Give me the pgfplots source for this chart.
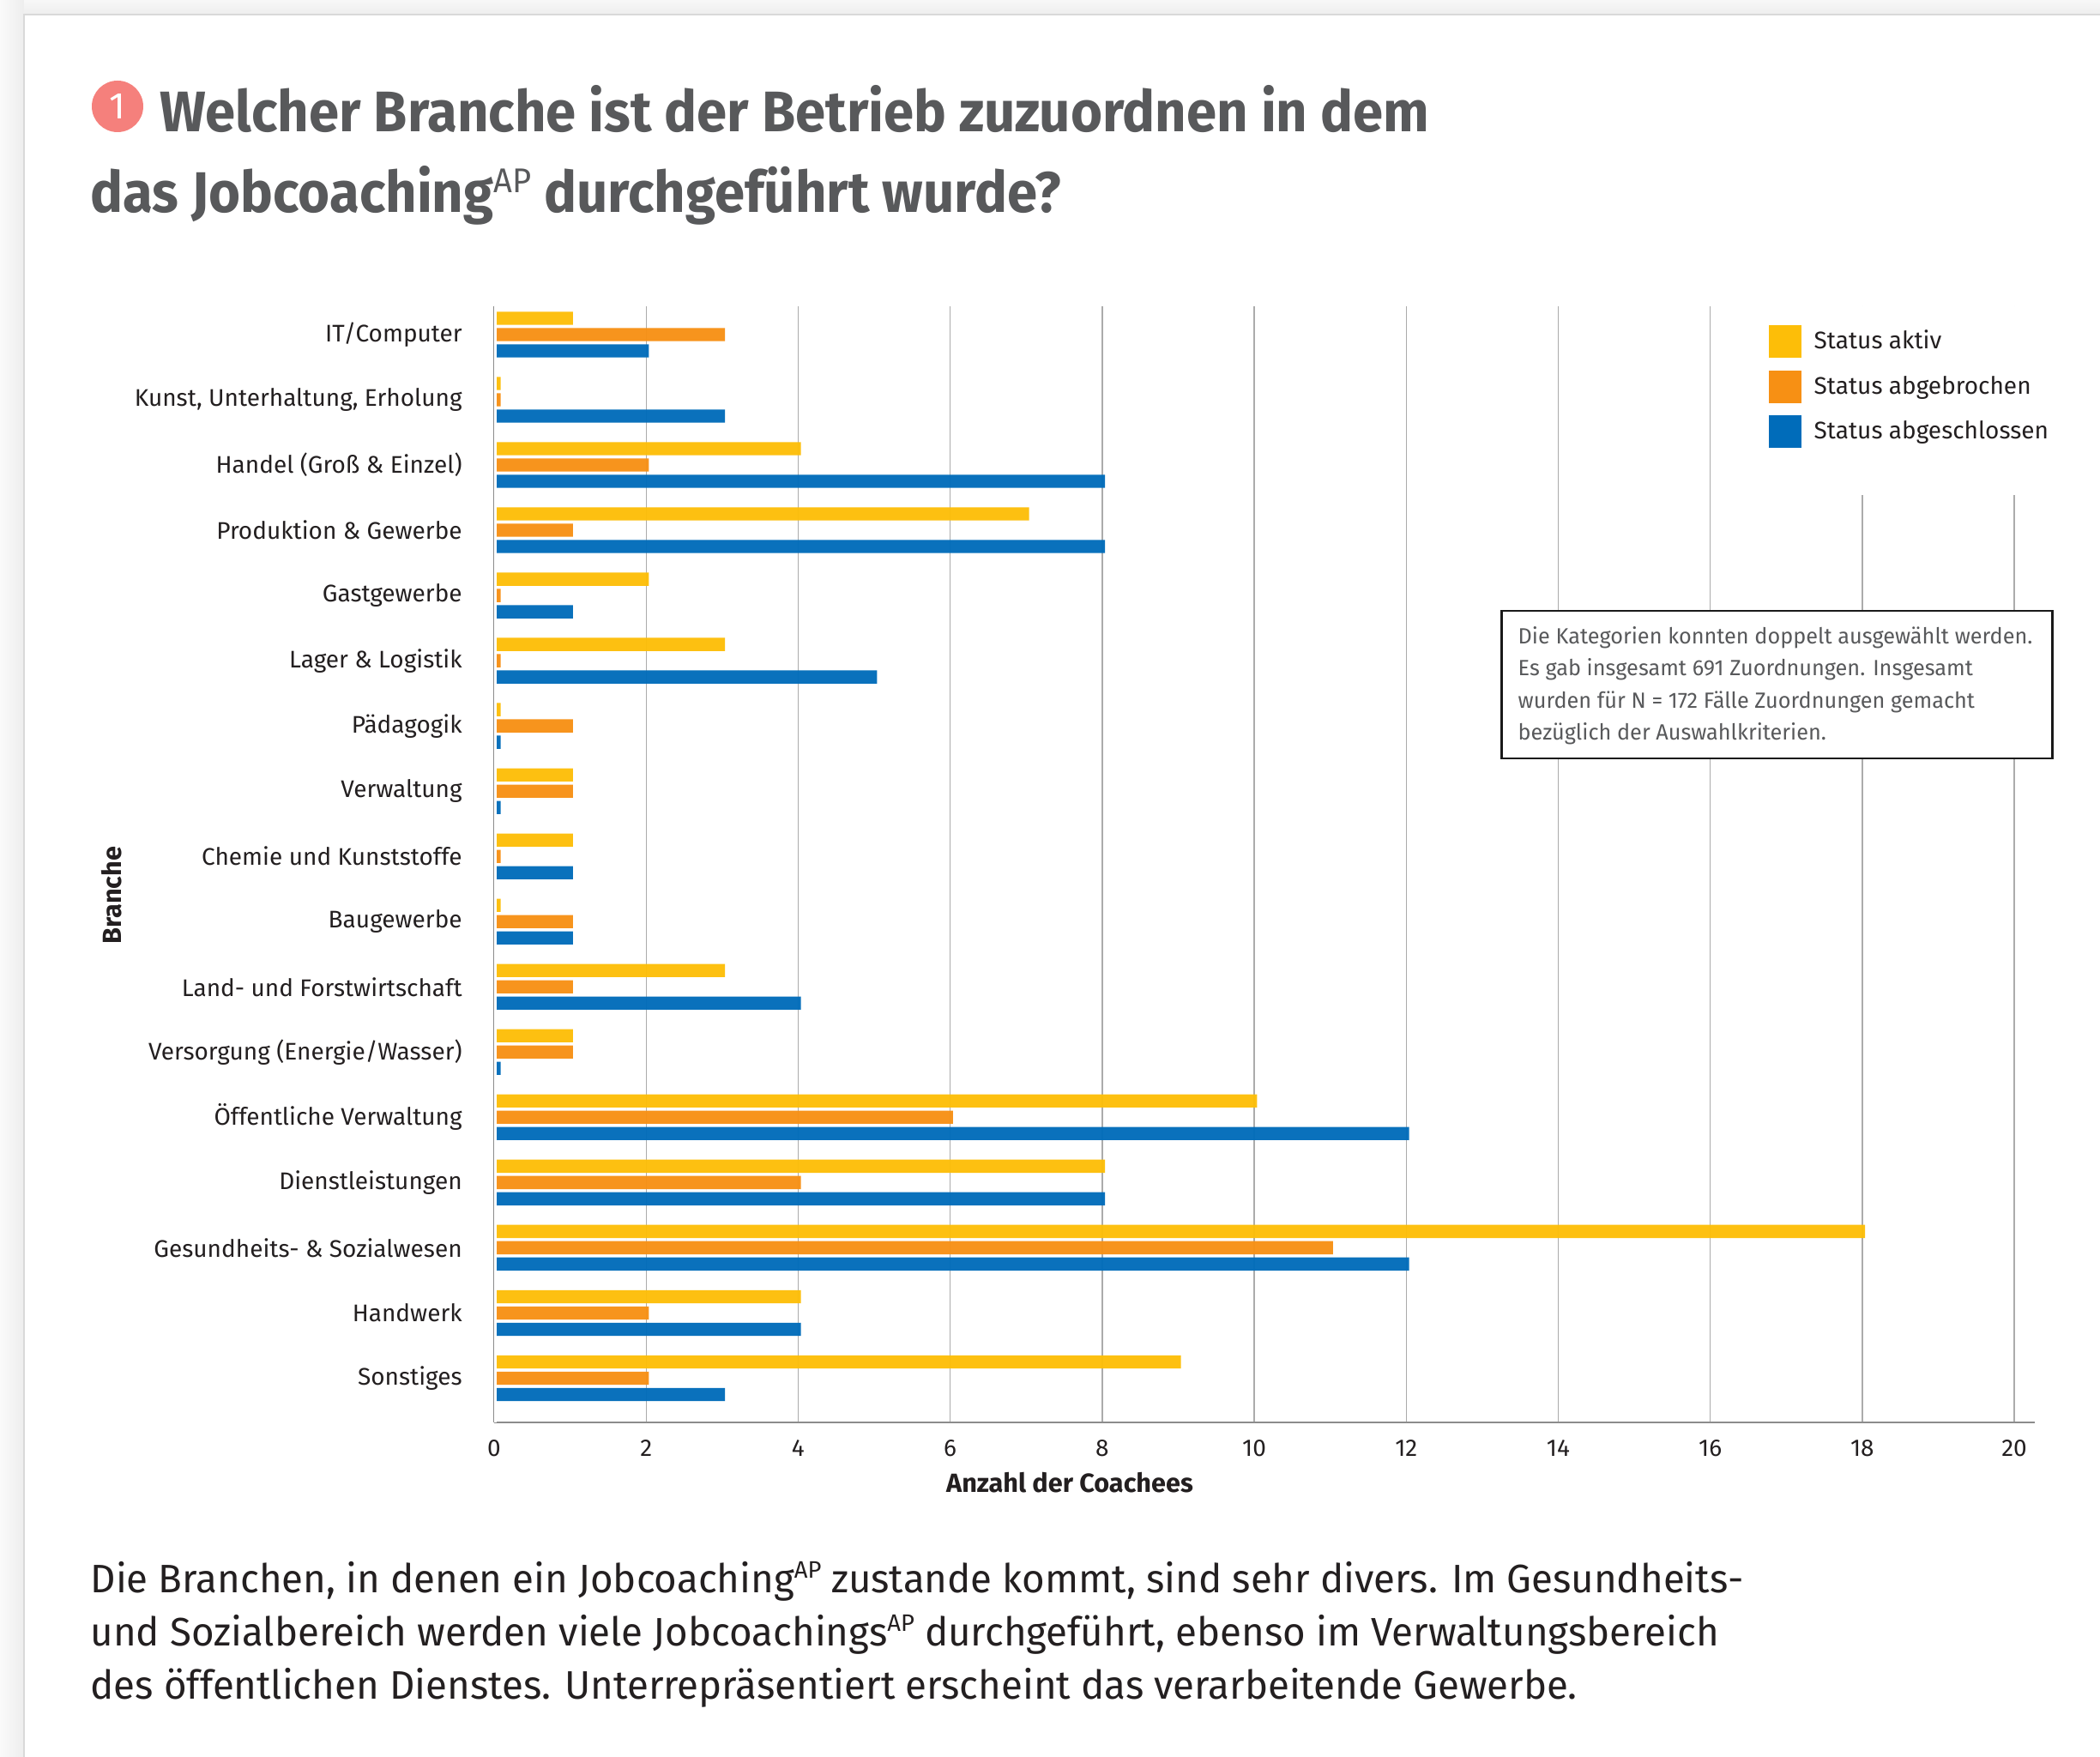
\documentclass[border=0pt]{standalone}
\usepackage{fontspec}
\setmainfont{Fira Sans}
\newfontfamily\titlefont{Fira Sans}[FakeStretch=0.952]
\newfontfamily\bodyfont{Fira Sans}[FakeStretch=0.985]
\usepackage{pgfplots}
\usepackage{pgfplotstable}
\pgfplotsset{compat=1.18}
\definecolor{cY}{HTML}{FDBE08}
\definecolor{cO}{HTML}{F79014}
\definecolor{cB}{HTML}{006CBA}
\definecolor{cT}{HTML}{58595B}
\definecolor{cK}{HTML}{231F20}
\newcommand\supAP[1]{\raisebox{#1}{\fontseries{l}\selectfont\scalebox{0.6}{AP}}}
\pgfplotsset{layers/barsover/.define layer set={axis background,axis grid,axis ticks,pre main,main,axis lines,axis tick labels,axis descriptions,axis foreground}{}}
\pgfplotstableread{
a o b
1 3 2
0 0 3
4 2 8
7 1 8
2 0 1
3 0 5
0 1 0
1 1 0
1 0 1
0 1 1
3 1 4
1 1 0
10 6 12
8 4 8
18 11 12
4 2 4
9 2 3
}\branchen
\begin{document}
\begin{tikzpicture}
\begin{scope}[x=0.3pt,y=-0.3pt]
\fill[black!6] (0,0) rectangle (2448,2048);
\shade[left color=black!2, right color=black!7] (0,0) rectangle (28,2048);
\shade[top color=black!3, bottom color=black!7] (28,0) rectangle (2448,17);
\fill[white, draw=black!15, line width=0.4pt] (28,17) rectangle (2460,2060);
\end{scope}
\begin{axis}[
  set layers=barsover,
  at={(172.8pt,-497.4pt)}, anchor=south west,
  scale only axis, width=538.8pt, height=390.3pt,
  xmin=0, xmax=20.27, ymin=-0.434, ymax=16.678, y dir=reverse,
  clip=false,
  xbar, 
  axis lines*=left,
  axis line style={-, color=black!45, line width=0.8pt},
  xtick={0,2,...,20}, ytick={0,...,16},
  yticklabels={IT/Computer,{Kunst, Unterhaltung, Erholung},Handel (Groß \& Einzel),Produktion \& Gewerbe,Gastgewerbe,Lager \& Logistik,Pädagogik,Verwaltung,Chemie und Kunststoffe,Baugewerbe,Land- und Forstwirtschaft,Versorgung (Energie/Wasser),Öffentliche Verwaltung,Dienstleistungen,Gesundheits- \& Sozialwesen,Handwerk,Sonstiges},
  major tick length=0pt,
  /pgf/number format/assume math mode=true,
  tick label style={font=\fontsize{8.4}{10}\selectfont, text=cK},
  yticklabel style={inner sep=0pt, xshift=-11pt},
  xticklabel style={inner sep=0pt, yshift=-5.9pt},
  xmajorgrids,
  grid style={color=black!33, line width=0.4pt},
  xlabel={Anzahl der Coachees},
  xlabel style={font=\fontsize{9.2}{10}\bfseries, text=cK, at={(axis description cs:0.3736,0)}, anchor=center, yshift=-21pt},
  ylabel={Branche},
  ylabel style={font=\fontsize{9.2}{10}\bfseries, text=cK, at={(axis description cs:0,0.472)}, anchor=center, yshift=133.8pt},
  legend style={at={(axis description cs:0.8274,0.9838)}, anchor=north west, draw=none, fill=none, inner sep=0pt, outer sep=0pt, font=\fontsize{8.4}{10}\selectfont, text=cK, row sep=3.93pt, /tikz/every even column/.append style={column sep=0pt}},
  legend cell align=left,
  legend image code/.code={\fill[#1,fill opacity=1] (0pt,-5.7pt) rectangle (11.4pt,5.7pt);},
]
\addplot[xbar, draw=none, fill=cY, fill opacity=0.96, bar width=4.6pt, bar shift=5.7pt] table[x expr={ifthenelse(\thisrow{a}==0,0.087,\thisrow{a}+0.037)}, y expr=\coordindex] {\branchen};
\addplot[xbar, draw=none, fill=cO, fill opacity=0.96, bar width=4.6pt, bar shift=0pt] table[x expr={ifthenelse(\thisrow{o}==0,0.087,\thisrow{o}+0.037)}, y expr=\coordindex] {\branchen};
\addplot[xbar, draw=none, fill=cB, fill opacity=0.96, bar width=4.6pt, bar shift=-5.7pt] table[x expr={ifthenelse(\thisrow{b}==0,0.087,\thisrow{b}+0.037)}, y expr=\coordindex] {\branchen};
\legend{\hspace{2.4pt}Status aktiv,\hspace{2.4pt}Status abgebrochen,\hspace{2.4pt}Status abgeschlossen}
\fill[white] (axis cs:0,-0.434) rectangle (axis cs:0.037,16.678);
\fill[white] (axis cs:16.2,-0.434) rectangle (axis cs:20.27,2.46);
\end{axis}
\begin{scope}[x=0.3pt,y=-0.3pt]
\node[draw=black!90, line width=0.75pt, fill=white, minimum width=192.6pt, minimum height=51.6pt, inner sep=0pt, anchor=north west] at (1749,711) {};
\foreach \yy/\tt in {751/Die Kategorien konnten doppelt ausgewählt werden.,788/Es gab insgesamt 691 Zuordnungen. Insgesamt,826/wurden für N = 172 Fälle Zuordnungen gemacht,863/bezüglich der Auswahlkriterien.}
  \node[anchor=base west, inner sep=0pt, text=cT, font=\fontsize{7.7}{11.2}\bodyfont] at (1769,\yy) {\tt};
\fill[fill={rgb,255:red,245;green,128;blue,124}] (137,124) circle (30);
\node[text=white, font=\fontsize{13}{14}\selectfont] at (137,124) {1};
\node[anchor=base west, inner sep=0pt, text=cT, font=\fontsize{20}{28}\titlefont\bfseries] at (186,154) {Welcher Branche ist der Betrieb zuzuordnen in dem};
\node[anchor=base west, inner sep=0pt, text=cT, font=\fontsize{20}{28}\titlefont\bfseries] at (105,248) {das Jobcoaching\supAP{7pt} durchgeführt wurde?};
\node[anchor=base west, inner sep=0pt, text=cK, font=\fontsize{13.9}{18.5}\bodyfont] at (105,1856) {Die Branchen, in denen ein Jobcoaching\supAP{5pt} zustande kommt, sind sehr divers. Im Gesundheits-};
\node[anchor=base west, inner sep=0pt, text=cK, font=\fontsize{13.9}{18.5}\bodyfont] at (105,1918) {und Sozialbereich werden viele Jobcoachings\supAP{5pt} durchgeführt, ebenso im Verwaltungsbereich};
\node[anchor=base west, inner sep=0pt, text=cK, font=\fontsize{13.9}{18.5}\bodyfont] at (105,1980) {des öffentlichen Dienstes. Unterrepräsentiert erscheint das verarbeitende Gewerbe.};
\end{scope}
\pgfresetboundingbox
\path[use as bounding box] (0,0) rectangle (734.4pt,-614.4pt);
\end{tikzpicture}
\end{document}
